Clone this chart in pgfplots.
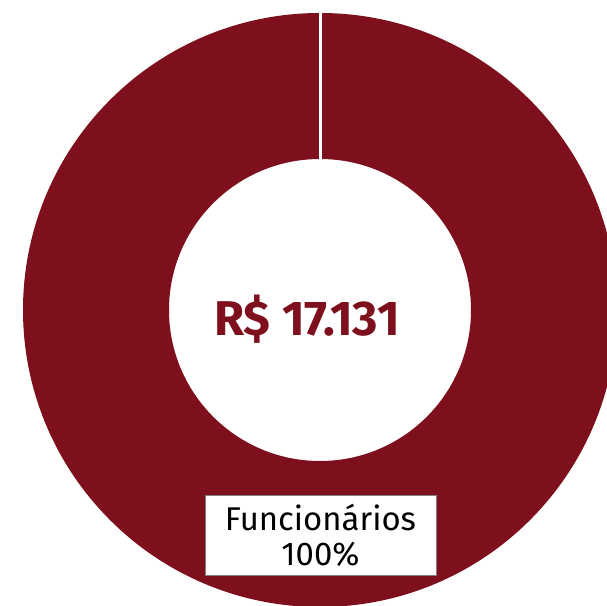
\documentclass[border=0pt]{standalone}
\usepackage{pgfplots}
\usepackage{pgfplotstable}
\pgfplotsset{compat=1.18}
\usepackage{fontspec}
\setmainfont{Fira Sans}
\definecolor{vinho}{HTML}{7D101C}

\pgfplotstableread{
categoria valor total
Funcionarios 100 17131
}\fatias

\begin{document}
\begin{tikzpicture}
\begin{axis}[
    width=607bp, height=606bp, scale only axis,
    xmin=0, xmax=607, ymin=0, ymax=606,
    hide axis, clip=true,
]
% anel (fatia unica de 100%)
\fill[vinho, even odd rule] (axis cs:320,296) circle[radius=297]
    (axis cs:320,296) circle[radius=151];
\draw[white, line width=3bp] (axis cs:320,446) -- (axis cs:320,596);
\node[font=\bfseries\fontsize{49}{49}\selectfont, text=vinho] at (axis cs:307,287) {R\$ 17.131};
\node[draw=gray, fill=white, minimum width=231bp, minimum height=80bp, align=center,
      font=\fontsize{33}{35}\selectfont, inner sep=0pt] at (axis cs:320.5,71) {Funcionários\\100\%};
\end{axis}
\pgfresetboundingbox
\path (current axis.south west) rectangle (current axis.north east);
\end{tikzpicture}
\end{document}
